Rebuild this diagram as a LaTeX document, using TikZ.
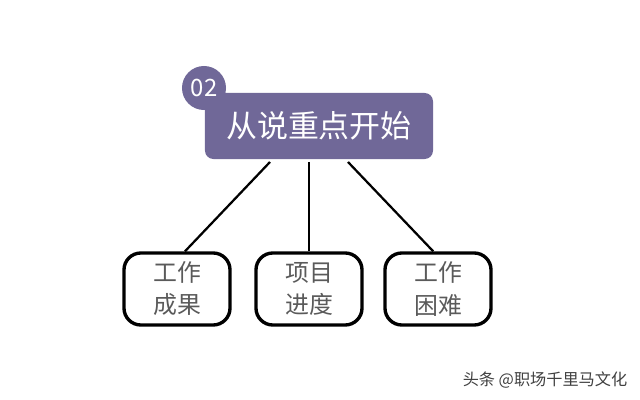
\documentclass[tikz,border=0pt]{standalone}
\usepackage{fontspec}
\newfontfamily\cjk{Noto Sans CJK SC}
\definecolor{bannerpurple}{RGB}{112,104,152}
\definecolor{boxtext}{RGB}{90,90,90}

\begin{document}
\begin{tikzpicture}[x=0.025cm, y=-0.025cm,
  banner/.style={fill=bannerpurple, rounded corners=6pt, minimum width=5.7cm, minimum height=1.65cm, text=white, font=\cjk\fontsize{22}{26}\selectfont},
  badge/.style={circle, fill=bannerpurple, minimum size=1.1cm, inner sep=0pt, text=white, font=\cjk\fontsize{17}{19}\selectfont},
  topicbox/.style={draw=black, line width=2.4pt, rounded corners=12pt, minimum width=2.65cm, minimum height=1.8cm, align=center, text=boxtext, font=\cjk\fontsize{17}{22.8}\selectfont},
  link/.style={line width=1.6pt, black}]
\useasboundingbox (0,0) rectangle (640,400); % canvas
\node[banner] (banner) at (319,126) {从说重点开始}; % main title
\node[badge] (badge) at (204,88) {02}; % number badge
\node[topicbox] (result) at (177,289) {工作\\成果}; % left box
\node[topicbox] (progress) at (309,289) {项目\\进度}; % middle box
\node[topicbox] (trouble) at (438,289) {工作\\困难}; % right box
\coordinate (l1) at (270,162); % line starts
\coordinate (l2) at (309,162);
\coordinate (l3) at (348,162);
\draw[link] (l1) -- ([xshift=0.2cm]result.north); % left line
\draw[link] (l2) -- (progress.north); % middle line
\draw[link] (l3) -- ([xshift=-0.12cm]trouble.north); % right line
\node[text=black!75, font=\cjk\fontsize{11.5}{14}\selectfont] (mark) at (545,380) {头条 @职场千里马文化}; % watermark
\end{tikzpicture}
\end{document}
